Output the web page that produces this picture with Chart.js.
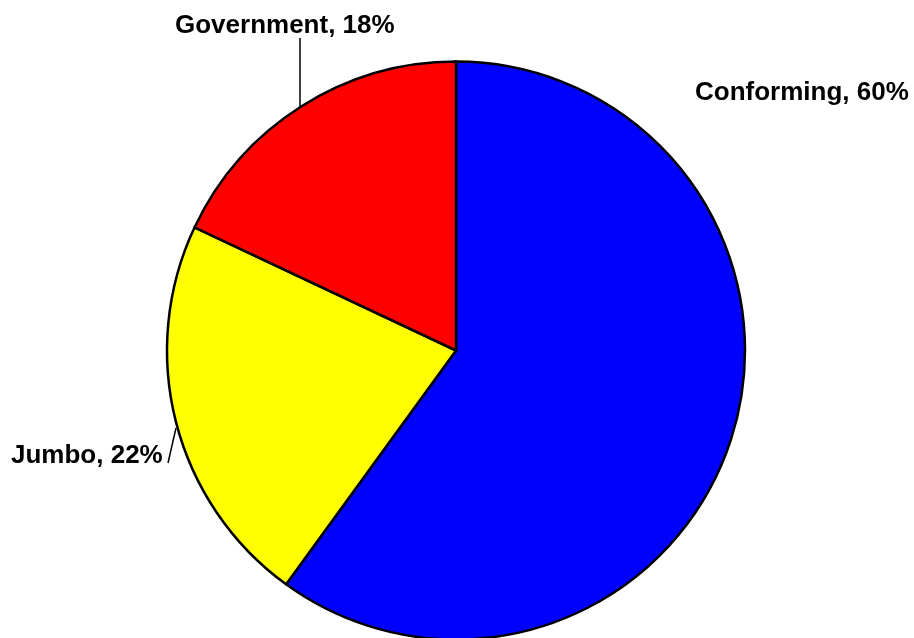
<!DOCTYPE html>
<html>
<head>
<meta charset="utf-8">
<script src="https://cdn.jsdelivr.net/npm/chart.js@4/dist/chart.umd.min.js"></script>
<style>
  html, body { margin: 0; padding: 0; background: #fff; }
  #wrap { width: 914px; height: 638px; }
</style>
</head>
<body>
<div id="wrap"><canvas id="pieChart" width="914" height="638"></canvas></div>
<script>
const categories = ["Conforming", "Jumbo", "Government"];
const shares = [60, 22, 18];
const sliceColors = ["#0000ff", "#ffff00", "#ff0000"];

// where each label sits, plus its leader line (if any)
const labelLayout = [
    { x: 695, y: 100, leader: null },
    { x: 11, y: 463, leader: [168, 463, 176, 428] },
    { x: 175, y: 33, leader: [300, 38, 300, 107] }
];

const labelPlugin = {
    id: "sliceLabels",
    afterDraw(chart) {
        const ctx = chart.ctx;
        ctx.save();
        ctx.font = "bold 26px 'Liberation Sans', Arial, sans-serif";
        ctx.fillStyle = "#000";
        ctx.textAlign = "left";
        ctx.textBaseline = "alphabetic";
        ctx.strokeStyle = "#000";
        ctx.lineWidth = 1.5;
        categories.forEach((name, i) => {
            const pos = labelLayout[i];
            ctx.fillText(`${name}, ${shares[i]}%`, pos.x, pos.y);
            if (pos.leader) {
                ctx.beginPath();
                ctx.moveTo(pos.leader[0], pos.leader[1]);
                ctx.lineTo(pos.leader[2], pos.leader[3]);
                ctx.stroke();
            }
        });
        ctx.restore();
    }
};

new Chart("pieChart", {
    type: "pie",
    data: {
        labels: categories,
        datasets: [{
            data: shares,
            backgroundColor: sliceColors,
            borderColor: "#000",
            borderWidth: 2.5,
            borderJoinStyle: "miter"
        }]
    },
    options: {
        responsive: false,
        animation: false,
        radius: 289,
        layout: { padding: { left: 0, right: 2, top: 63, bottom: 0 } },
        plugins: {
            legend: { display: false },
            tooltip: { enabled: false }
        }
    },
    plugins: [labelPlugin]
});
</script>
</body>
</html>
